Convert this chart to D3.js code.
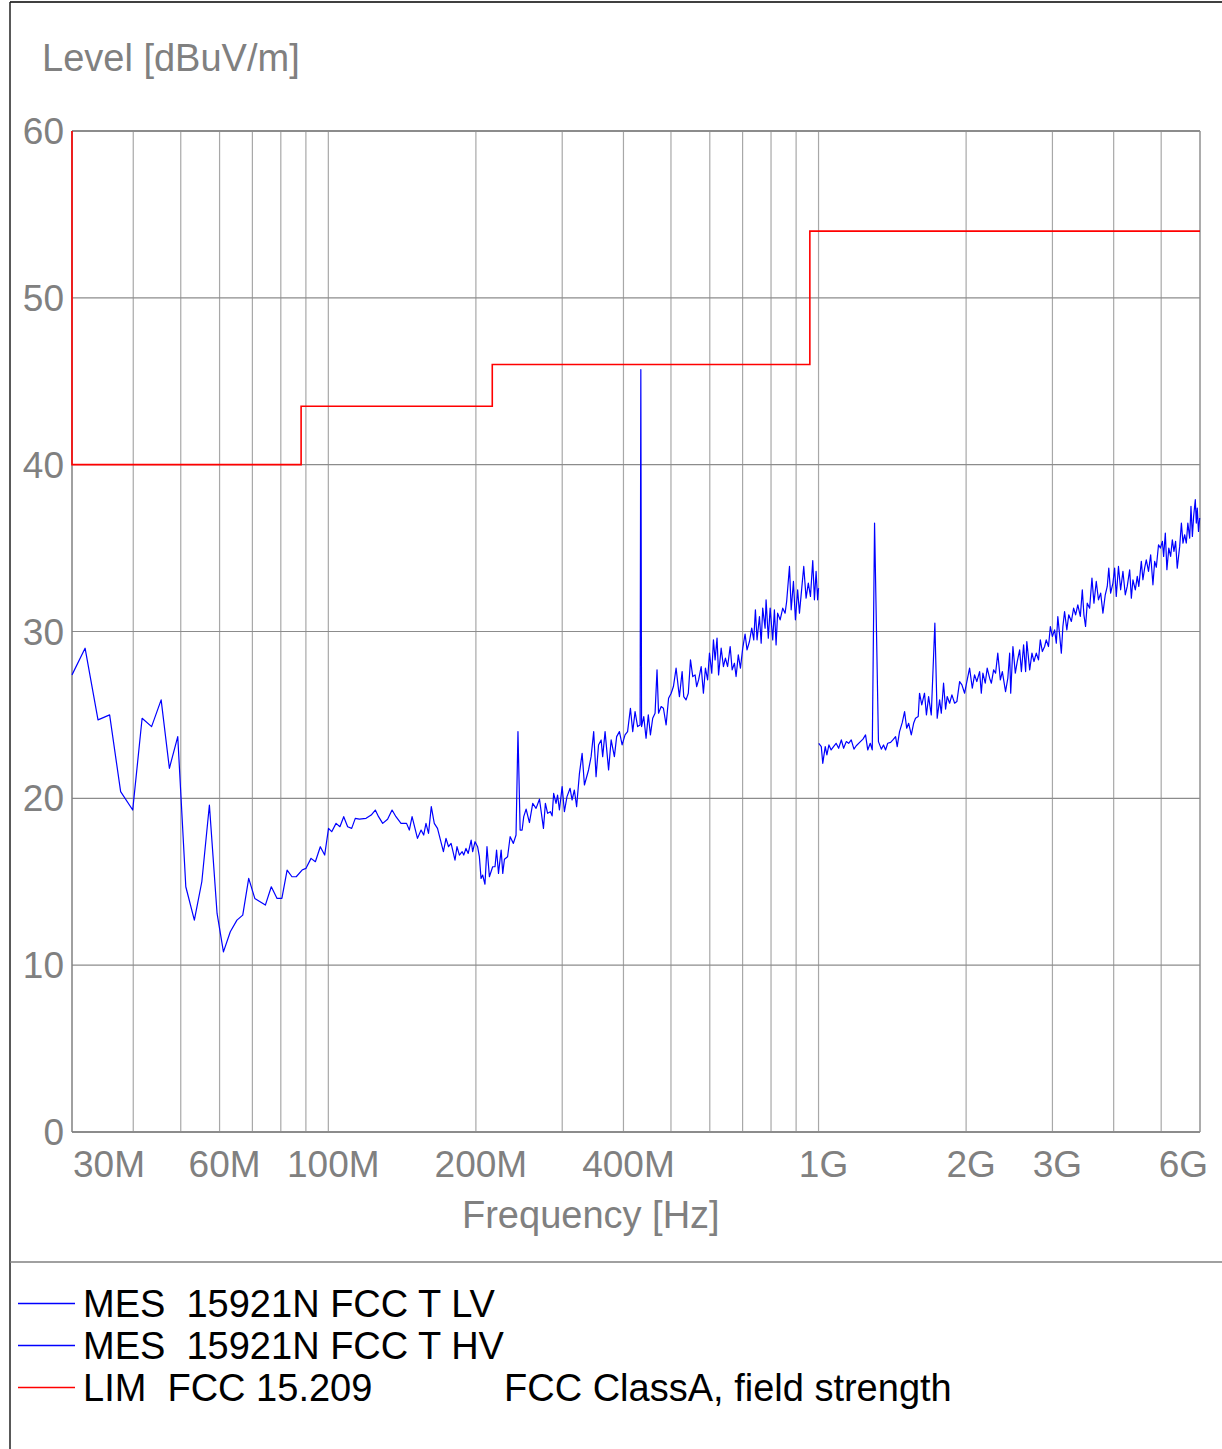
<!DOCTYPE html>
<html>
<head>
<meta charset="utf-8">
<script src="https://cdn.jsdelivr.net/npm/d3@7"></script>
<style>
    body { margin: 0; background: #fff; }
    text { font-family: "Liberation Sans", Arial, sans-serif; white-space: pre; }
</style>
</head>
<body>
<script>

// measurement 30M - 1G, [MHz, dBuV/m]
let lvData = [[30.0,27.4],[31.9,29.0],[33.9,24.7],[35.8,25.0],[37.7,20.4],[39.9,19.3],[41.7,24.8],[43.6,24.3],[45.6,25.9],[47.4,21.8],[49.3,23.7],[51.2,14.7],[53.3,12.7],[55.2,15.0],[57.2,19.6],[59.3,13.1],[61.1,10.8],[63.1,12.0],[65.1,12.7],[66.9,13.0],[68.8,15.2],[70.8,14.0],[74.4,13.6],[76.5,14.7],[78.6,14.0],[80.4,14.0],[82.4,15.7],[84.3,15.3],[86.0,15.3],[88.4,15.7],[90.0,15.8],[92.2,16.4],[94.1,16.2],[96.3,17.1],[98.3,16.6],[100.1,18.2],[101.6,18.0],[103.7,18.5],[105.6,18.3],[107.5,18.9],[109.5,18.3],[111.6,18.2],[113.5,18.8],[115.7,18.75],[119.4,18.8],[122.3,19.0],[124.7,19.3],[126.6,18.9],[129.1,18.5],[132.1,18.75],[134.9,19.3],[137.4,18.9],[140.7,18.5],[144.4,18.5],[146.3,18.1],[148.2,18.9],[152.0,17.6],[154.6,18.1],[156.5,17.8],[158.2,18.5],[160.1,17.9],[162.2,19.5],[164.5,18.5],[167.0,18.2],[171.7,16.8],[173.8,17.6],[175.9,17.1],[178.0,17.3],[181.3,16.3],[183.0,17.1],[185.1,16.6],[187.5,16.8],[188.9,16.6],[190.9,17.0],[192.9,16.7],[195.6,17.5],[197.0,16.8],[199.2,17.4],[201.6,17.1],[203.3,16.5],[204.9,15.2],[206.5,15.4],[208.7,14.85],[210.7,17.1],[213.1,15.3],[216.4,15.9],[218.8,15.9],[220.4,16.9],[222.4,15.5],[225.2,16.9],[226.9,15.5],[228.7,16.35],[232.1,16.5],[234.9,17.7],[238.5,17.3],[241.5,17.8],[243.7,24.0],[246.2,18.1],[248.5,18.1],[250.4,18.9],[253.2,19.35],[257.2,18.55],[261.2,19.7],[265.3,19.4],[269.6,19.95],[274.7,18.2],[277.2,19.7],[280.1,19.1],[283.8,19.2],[286.1,18.95],[288.2,20.3],[291.4,19.7],[293.5,20.2],[296.1,19.3],[299.9,20.7],[303.1,19.2],[306.8,20.1],[311.3,20.6],[314.2,19.9],[317.6,20.5],[321.0,19.5],[325.3,21.5],[329.4,22.7],[333.0,20.8],[339.5,21.7],[343.6,22.5],[347.8,24.0],[351.7,21.3],[355.8,23.2],[360.2,23.5],[362.8,22.5],[366.9,24.0],[373.0,21.7],[377.5,23.5],[383.3,22.5],[387.4,23.7],[392.5,24.0],[397.5,23.2],[403.0,23.8],[407.8,24.0],[413.3,25.4],[417.8,24.0],[422.4,25.2],[427.5,24.3],[432.5,24.4],[434.0,45.7],[435.5,24.3],[440.0,24.9],[444.8,23.6],[449.5,25.0],[454.0,23.8],[458.9,24.8],[464.0,25.1],[468.3,27.7],[471.7,25.1],[477.5,25.5],[482.6,25.4],[488.7,24.4],[494.4,26.0],[500.5,26.3],[505.8,26.7],[512.2,27.8],[518.2,26.5],[520.3,26.1],[526.9,27.6],[530.9,26.1],[536.7,25.9],[542.4,26.3],[548.0,28.3],[553.9,27.3],[560.0,27.4],[564.2,26.7],[569.3,27.1],[576.2,27.9],[582.3,26.3],[587.8,27.8],[593.9,27.1],[599.1,28.7],[605.6,27.5],[610.4,29.5],[615.2,28.3],[620.8,29.6],[625.3,27.4],[632.9,29.0],[639.7,27.9],[645.7,28.4],[652.4,27.9],[660.3,29.1],[666.5,27.7],[673.6,28.1],[678.9,27.3],[686.0,28.6],[692.9,27.8],[700.4,29.0],[708.2,29.85],[714.7,28.9],[722.9,29.4],[730.7,30.2],[737.6,29.5],[743.4,31.3],[749.1,29.5],[757.7,30.9],[763.8,29.3],[769.4,31.4],[778.0,30.2],[781.6,31.9],[789.8,29.6],[796.7,31.4],[806.4,29.5],[812.8,31.3],[819.2,29.2],[825.1,31.1],[835.0,30.7],[845.2,31.4],[854.6,31.1],[860.9,31.8],[872.4,33.9],[879.4,31.3],[888.8,33.0],[897.1,30.7],[906.5,32.5],[914.3,31.1],[924.2,32.6],[932.9,33.9],[943.2,32.0],[953.1,32.9],[962.8,32.1],[973.2,34.25],[980.9,31.9],[988.6,33.6],[995.8,31.9],[1000,32.6]];

// measurement 1G - 6G
let hvData = [[1001,23.3],[1013,23.1],[1020,22.1],[1032,23.1],[1040,22.6],[1050,23.2],[1061,22.9],[1073,23.1],[1086,23.3],[1099,23.0],[1113,23.5],[1125,23.0],[1139,23.4],[1152,23.3],[1166,23.5],[1181,22.95],[1194,23.15],[1213,23.35],[1232,23.55],[1247,23.8],[1260,22.9],[1275,23.3],[1287,22.9],[1301,36.5],[1325,23.4],[1343,22.95],[1357,23.2],[1370,22.9],[1384,23.3],[1403,23.35],[1418,23.5],[1436,23.7],[1447,23.1],[1463,24.0],[1482,24.55],[1498,25.2],[1513,24.2],[1527,24.5],[1546,23.8],[1563,24.5],[1577,24.8],[1597,24.9],[1607,26.3],[1624,25.6],[1645,26.3],[1660,25.0],[1677,26.1],[1698,25.0],[1727,30.5],[1746,24.8],[1766,25.9],[1780,25.1],[1799,26.9],[1816,25.35],[1830,26.1],[1851,25.7],[1871,26.2],[1895,25.7],[1915,25.8],[1940,27.0],[1961,26.8],[1986,26.3],[2007,27.0],[2033,27.8],[2059,26.6],[2081,27.4],[2103,27.0],[2131,27.6],[2148,26.3],[2164,27.5],[2188,26.9],[2208,27.8],[2234,27.2],[2252,26.9],[2276,27.7],[2297,27.5],[2321,28.7],[2349,27.1],[2371,27.6],[2407,26.4],[2433,27.2],[2454,28.7],[2466,26.3],[2492,29.1],[2520,27.5],[2543,28.2],[2572,28.9],[2593,27.6],[2620,29.2],[2645,27.6],[2660,29.4],[2696,27.7],[2725,28.7],[2751,28.2],[2781,28.7],[2810,28.3],[2834,29.5],[2861,28.8],[2892,29.1],[2914,29.5],[2945,29.1],[2971,30.3],[2999,29.7],[3031,30.1],[3055,29.3],[3077,30.9],[3103,29.8],[3128,28.7],[3151,30.3],[3176,31.2],[3210,30.1],[3239,31.0],[3279,30.6],[3314,31.4],[3345,31.0],[3380,31.6],[3420,30.9],[3452,32.5],[3478,31.0],[3505,30.3],[3533,31.7],[3573,31.4],[3612,33.2],[3646,31.7],[3686,33.0],[3724,31.9],[3763,32.3],[3803,31.1],[3845,32.2],[3881,32.7],[3909,33.8],[3943,32.3],[3986,32.9],[4018,33.8],[4049,32.1],[4091,33.9],[4133,32.5],[4178,33.6],[4224,32.2],[4263,32.7],[4312,33.7],[4346,32.0],[4379,33.1],[4428,32.5],[4469,33.3],[4501,32.7],[4555,34.2],[4589,33.1],[4626,33.8],[4662,34.3],[4711,33.6],[4759,34.6],[4810,32.8],[4849,34.2],[4887,33.85],[4938,35.2],[4981,35.0],[5028,35.4],[5058,34.5],[5098,35.9],[5136,33.7],[5182,35.0],[5227,34.5],[5269,35.5],[5309,34.8],[5350,35.4],[5392,33.8],[5454,35.1],[5498,36.5],[5539,35.3],[5583,35.8],[5626,35.3],[5667,36.5],[5716,35.6],[5751,37.5],[5789,35.7],[5823,36.9],[5869,37.9],[5897,36.5],[5923,37.4],[5958,36.0],[5991,36.8]];

// limit line FCC 15.209
let limData = [[30,60],[30,40],[88,40],[88,43.5],[216,43.5],[216,46],[960,46],[960,54],[6000,54]];

let gridFreqs = [40,50,60,70,80,90,100,200,300,400,500,600,700,800,900,1000,2000,3000,4000,5000];
let xTickValues = [30,60,100,200,400,1000,2000,3000,6000];
let xTickLabels = ["30M","60M","100M","200M","400M","1G","2G","3G","6G"];
let yTicks = [0,10,20,30,40,50,60];

let legendLabels = ["MES  15921N FCC T LV", "MES  15921N FCC T HV", "LIM  FCC 15.209"];
let legendColors = ["#0000ff", "#0000ff", "#ff0000"];
let legendNote = "FCC ClassA, field strength";


let svg = d3.select("body").append("svg").attr("width", 1222).attr("height", 1449);

let x = d3.scaleLog().domain([30, 6000]).range([72, 1200]);
let y = d3.scaleLinear().domain([0, 60]).range([1132, 131]);

//outer frame
svg.append("line").attr("x1", 10).attr("y1", 2).attr("x2", 1222).attr("y2", 2)
    .attr("stroke", "#000").attr("stroke-width", 1.5);
svg.append("line").attr("x1", 10).attr("y1", 2).attr("x2", 10).attr("y2", 1449)
    .attr("stroke", "#222").attr("stroke-width", 1.5);
svg.append("line").attr("x1", 10).attr("y1", 1262).attr("x2", 1222).attr("y2", 1262)
    .attr("stroke", "#808080").attr("stroke-width", 1.5);

//vertical grid
svg.selectAll(".vgrid")
    .data(gridFreqs).enter().append("line")
    .attr("class", "vgrid")
    .attr("x1", function(d, i){return x(d);})
    .attr("x2", function(d, i){return x(d);})
    .attr("y1", y(60))
    .attr("y2", y(0))
    .attr("stroke", "#a8a8a8")
    .attr("stroke-width", 1.2);

//horizontal grid
svg.selectAll(".hgrid")
    .data(yTicks).enter().append("line")
    .attr("class", "hgrid")
    .attr("x1", x(30))
    .attr("x2", x(6000))
    .attr("y1", function(d, i){return y(d);})
    .attr("y2", function(d, i){return y(d);})
    .attr("stroke", "#8c8c8c")
    .attr("stroke-width", function(d, i){return (d === 0 || d === 60) ? 2 : 1.2;});

//frame sides
svg.append("line").attr("x1", x(30)).attr("x2", x(30)).attr("y1", y(60)).attr("y2", y(0))
    .attr("stroke", "#808080").attr("stroke-width", 1.5);
svg.append("line").attr("x1", x(6000)).attr("x2", x(6000)).attr("y1", y(60)).attr("y2", y(0))
    .attr("stroke", "#909090").attr("stroke-width", 1.5);

//y labels
svg.selectAll(".ylab")
    .data(yTicks).enter().append("text")
    .attr("class", "ylab")
    .text(function(d, i){return d;})
    .attr("x", 64)
    .attr("y", function(d, i){return y(d) + 13;})
    .attr("text-anchor", "end")
    .attr("font-size", 37)
    .attr("fill", "#808080");

//x labels
svg.selectAll(".xlab")
    .data(xTickValues).enter().append("text")
    .attr("class", "xlab")
    .text(function(d, i){return xTickLabels[i];})
    .attr("x", function(d, i){
        if(i === 0){
            return x(d) + 1;
        }
        if(i === xTickValues.length - 1){
            return x(d) + 8;
        }
        return x(d) + 5;
    })
    .attr("y", 1177)
    .attr("text-anchor", function(d, i){
        if(i === 0){
            return "start";
        }
        if(i === xTickValues.length - 1){
            return "end";
        }
        return "middle";
    })
    .attr("font-size", 37)
    .attr("fill", "#808080");

//axis titles
svg.append("text").text("Level [dBuV/m]")
    .attr("x", 42).attr("y", 71)
    .attr("font-size", 38).attr("fill", "#808080");
svg.append("text").text("Frequency [Hz]")
    .attr("x", 462).attr("y", 1228)
    .attr("font-size", 38).attr("fill", "#808080");

//lines
let line = d3.line()
    .x(function(d){return x(d[0]);})
    .y(function(d){return y(d[1]);});

svg.append("path").datum(limData)
    .attr("d", line)
    .attr("fill", "none")
    .attr("stroke", "#ff0000")
    .attr("stroke-width", 1.6);

svg.append("path").datum(lvData)
    .attr("d", line)
    .attr("fill", "none")
    .attr("stroke", "#0000ff")
    .attr("stroke-width", 1.2)
    .attr("stroke-linejoin", "round");

svg.append("path").datum(hvData)
    .attr("d", line)
    .attr("fill", "none")
    .attr("stroke", "#0000ff")
    .attr("stroke-width", 1.2)
    .attr("stroke-linejoin", "round");

//legend
for(let i = 0; i < legendLabels.length; i++){

    let ly = 1303.5 + 42 * i;

    svg.append("path")
        .attr("d", "M18," + ly + "H75")
        .attr("fill", "none")
        .style("stroke", legendColors[i])
        .style("stroke-width", "1.4px");

    svg.append("text")
        .text(legendLabels[i])
        .attr("x", 83)
        .attr("y", ly + 13.5)
        .attr("font-size", 38)
        .attr("fill", "#000");
}

svg.append("text").text(legendNote)
    .attr("x", 504).attr("y", 1401)
    .attr("font-size", 38).attr("fill", "#000");

</script>
</body>
</html>
